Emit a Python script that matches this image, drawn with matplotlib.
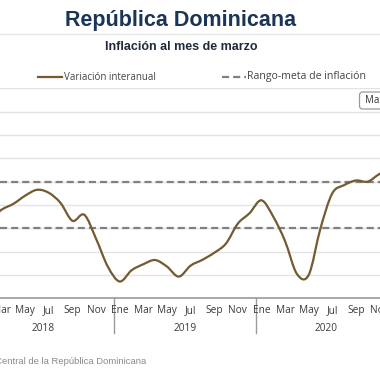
import matplotlib
matplotlib.use("Agg")
import matplotlib.pyplot as plt
from matplotlib.path import Path
from matplotlib.patches import PathPatch, FancyBboxPatch
import numpy as np

# Monthly year-on-year inflation (%), Jan 2018 .. Dec 2020
months = ["Ene", "Feb", "Mar", "Abr", "May", "Jun",
          "Jul", "Ago", "Sep", "Oct", "Nov", "Dic"]
tick_months = ["Ene", "Mar", "May", "Jul", "Sep", "Nov"]
years = ["2018", "2019", "2020"]
inflation = [
    4.20, 3.40, 3.80, 4.05, 4.40, 4.65, 4.52, 4.08, 3.32, 3.58, 2.55, 1.35,
    0.72, 1.20, 1.46, 1.64, 1.36, 0.93, 1.40, 1.65, 1.95, 2.35, 3.20, 3.65,
    4.20, 3.50, 2.45, 1.05, 1.00, 3.00, 4.50, 4.85, 5.05, 5.00, 5.33, 5.55,
]
target_low = 3.0
target_high = 5.0

W = H = 380
BROWN = "#735a30"
DASH = "#808080"
TXT = "#3a3a3a"


def fx(px):
    return px / W


def fy(py):
    return 1 - py / H


def smooth_path(x, y):
    # cubic bezier through the points (Catmull-Rom style), like a spline series
    x = np.asarray(x, float)
    y = np.asarray(y, float)
    verts = [(x[0], y[0])]
    codes = [Path.MOVETO]
    n = len(x)
    for i in range(n - 1):
        x0, y0 = (x[i - 1], y[i - 1]) if i > 0 else (x[i], y[i])
        x3, y3 = (x[i + 2], y[i + 2]) if i + 2 < n else (x[i + 1], y[i + 1])
        c1 = (x[i] + (x[i + 1] - x0) / 6, y[i] + (y[i + 1] - y0) / 6)
        c2 = (x[i + 1] - (x3 - x[i]) / 6, y[i + 1] - (y3 - y[i]) / 6)
        verts += [c1, c2, (x[i + 1], y[i + 1])]
        codes += [Path.CURVE4] * 3
    return Path(verts, codes)


fig = plt.figure(figsize=(3.8, 3.8), dpi=100)
fig.patch.set_facecolor("white")

# plot area in pixels: top 88.3 (9 %), bottom 298.3 (0 %)
top_px, bot_px = 88.3, 298.3
ax = fig.add_axes([0, fy(bot_px), 1, (bot_px - top_px) / H])
ax.set_facecolor("white")

step = 11.81          # pixels per month
x0_px = -22.0         # pixel position of Jan 2018 category centre
ax.set_xlim((0 - x0_px) / step, (W - x0_px) / step)
ax.set_ylim(0, 9)

for v in range(1, 10):
    ax.axhline(v, color="#e3e3e3", lw=1.0, zorder=1)
ax.axhline(0, color="#9a9a9a", lw=1.2, zorder=2, clip_on=False)

for v in (target_low, target_high):
    ax.axhline(v, color=DASH, lw=1.6, dashes=(3.2, 1.8), zorder=3)

xs = np.arange(len(inflation))
ax.add_patch(PathPatch(smooth_path(xs, inflation), fill=False,
                       edgecolor=BROWN, lw=1.6, zorder=4,
                       capstyle="round", joinstyle="round"))

for s in ax.spines.values():
    s.set_visible(False)
ax.set_xticks([])
ax.set_yticks([])

# month labels, year labels and year separators
trans = ax.get_xaxis_transform()
ax_h = bot_px - top_px
for yi, yr in enumerate(years):
    for mi, m in enumerate(months):
        if m in tick_months:
            ax.text(yi * 12 + mi, -12 / ax_h, m, transform=trans,
                    ha="center", va="center", fontsize=7.3, color=TXT,
                    family="Open Sans", clip_on=False)
    ax.text(yi * 12 + 5.5, -30.5 / ax_h, yr, transform=trans,
            ha="center", va="center", fontsize=7.3, color=TXT,
            family="Open Sans", clip_on=False)
for b in range(len(years) + 1):
    ax.plot([b * 12 - 0.5] * 2, [0, -35 / ax_h], transform=trans,
            color="#9a9a9a", lw=1.0, clip_on=False)

# titles
fig.text(fx(181), fy(20.5), "República Dominicana", ha="center", va="center",
         fontsize=15.5, fontweight="bold", color="#1b3556",
         family="Liberation Sans")
fig.add_artist(plt.Line2D([0, 1], [fy(34), fy(34)], color="#e6e6e6", lw=1.0))
fig.text(fx(181), fy(47.5), "Inflación al mes de marzo", ha="center",
         va="center", fontsize=9, fontweight="bold", color="#1f2a3a",
         family="Liberation Sans")

# legend
fig.add_artist(plt.Line2D([fx(38), fx(62)], [fy(77), fy(77)], color=BROWN, lw=1.6))
fig.text(fx(64), fy(77), "Variación interanual", ha="left", va="center",
         fontsize=7, color="#444444", family="Open Sans")
fig.add_artist(plt.Line2D([fx(222), fx(246)], [fy(77), fy(77)], color=DASH,
                          lw=1.6, dashes=(3.2, 1.8)))
fig.text(fx(247), fy(77), "Rango-meta de inflación", ha="left", va="center",
         fontsize=7.6, color="#444444", family="Open Sans")

# range button (cut at the edge)
fig.add_artist(FancyBboxPatch((fx(359.5), fy(109)), fx(40), fx(17),
                              boxstyle="round,pad=0,rounding_size=0.008",
                              facecolor="white", edgecolor="#9a9a9a", lw=0.9,
                              transform=fig.transFigure))
fig.text(fx(365), fy(100.5), "Max", ha="left", va="center", fontsize=7,
         color="#333333", family="Open Sans")

# source
fig.text(fx(146), fy(362), "Fuente: Banco Central de la República Dominicana",
         ha="right", va="center", fontsize=6.8, color="#8a8a8a",
         family="Liberation Sans")

fig.savefig("out.png", dpi=100, facecolor="white")
